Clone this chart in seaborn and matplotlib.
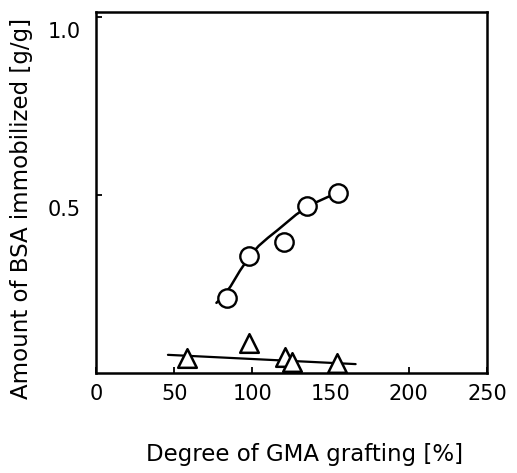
import numpy as np
import pandas as pd
import seaborn as sns
import matplotlib.pyplot as plt
import matplotlib.transforms as mtransforms

# data
circle_x = [84, 98, 120, 135, 155]
circle_y = [0.210, 0.330, 0.368, 0.469, 0.506]

triangle_x = [58, 98, 121, 125, 154]
triangle_y = [0.042, 0.084, 0.045, 0.031, 0.028]

# hand-drawn trend curves
curve_x = [77, 81, 86, 92, 98.5, 104, 110, 116, 122, 128, 135, 141, 148, 155]
curve_y = [0.197, 0.214, 0.243, 0.287, 0.329, 0.357, 0.380, 0.401, 0.423, 0.445, 0.466, 0.480, 0.494, 0.506]
tline_x = [46, 166]
tline_y = [0.051, 0.025]

x_ticks = [0, 50, 100, 150, 200, 250]
y_ticks = [0.5, 1.0]
y_ticklabels = ['0.5', '1.0']

sns.set_style('ticks')
plt.rcParams['font.family'] = ['DejaVu Sans']
plt.rcParams['text.color'] = 'black'
plt.rcParams['axes.labelcolor'] = 'black'

fig = plt.figure(figsize=(5.17, 4.73), dpi=100)
ax = fig.add_axes([96 / 517, 1 - 373 / 473, (487 - 96) / 517, (373 - 12) / 473])

sns.lineplot(x=curve_x, y=curve_y, ax=ax, color='black', lw=1.8, sort=False)
sns.lineplot(x=tline_x, y=tline_y, ax=ax, color='black', lw=1.6)

sns.scatterplot(x=circle_x, y=circle_y, ax=ax, marker='o', s=175,
                facecolor='white', edgecolor='black', linewidth=1.7, zorder=5)
sns.scatterplot(x=triangle_x, y=triangle_y, ax=ax, marker='^', s=180,
                facecolor='white', edgecolor='black', linewidth=1.8, zorder=5)

ax.set_xlim(0, 250)
ax.set_ylim(0, 1.014)
ax.set_xticks(x_ticks)
ax.set_yticks(y_ticks)
ax.set_yticklabels(y_ticklabels)

for s in ax.spines.values():
    s.set_linewidth(1.8)
    s.set_color('black')

ax.tick_params(direction='in', length=4, width=1.3, labelsize=15,
               colors='black', labelcolor='black')
ax.tick_params(axis='x', pad=8)
ax.tick_params(axis='y', pad=11)

# the y labels sit a little below their ticks in the original
off = mtransforms.ScaledTranslation(0, -13 / 100, fig.dpi_scale_trans)
for lab in ax.get_yticklabels():
    lab.set_transform(lab.get_transform() + off)

ax.set_xlabel('Degree of GMA grafting [%]', fontsize=16.5, color='black')
ax.set_ylabel('Amount of BSA immobilized [g/g]', fontsize=16.5, color='black')
ax.xaxis.set_label_coords((305 - 96) / 391, -(443 - 373) / 361)
ax.yaxis.set_label_coords(-(96 - 33) / 391, (373 - 208) / 361)

fig.savefig('out.png', dpi=100)
